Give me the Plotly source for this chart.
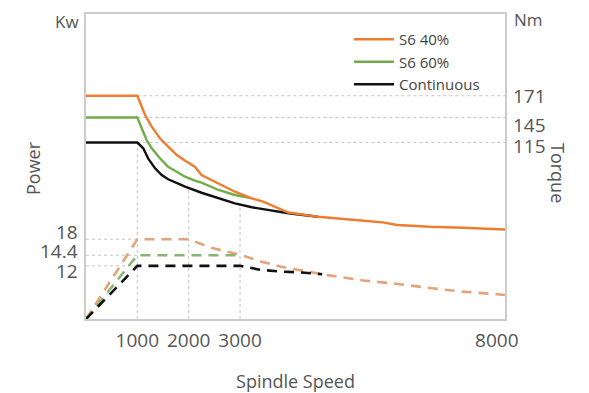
import numpy as np
import plotly.graph_objects as go

# ---------------- data ----------------
# Torque curves (Nm) vs spindle speed (rpm)
SPEED_TQ_S6_40 = [0, 1000, 1085, 1150, 1280, 1440, 1600, 1770, 1930, 2120, 2250, 2580, 2900, 3230, 3450,
                  3940, 4520, 5240, 5780, 6060, 6700, 7340, 8060, 8160]
TQ_S6_40 = [171, 171, 157.8, 147.9, 133.9, 120.0, 110.0, 100.0, 93.2, 86.0, 76.1, 66.2, 56.1, 48.2, 44.2,
            31.2, 26.2, 22.3, 19.5, 16.3, 14.2, 13.0, 11.1, 10.9]

SPEED_TQ_S6_60 = [0, 1000, 1085, 1180, 1280, 1440, 1600, 1930, 2120, 2250, 2580, 2900, 3230]
TQ_S6_60 = [145, 145, 132.0, 118.0, 108.1, 96.1, 86.0, 74.1, 69.3, 66.9, 58.2, 52.2, 48.2]

SPEED_TQ_CONT = [0, 1000, 1115, 1210, 1345, 1475, 1600, 1930, 2250, 2580, 2900, 3230, 3450, 3940, 4520]
TQ_CONT = [115, 115, 108.1, 96.1, 84.1, 76.1, 71.0, 62.1, 54.9, 48.2, 42.2, 37.5, 35.1, 30.3, 26.2]

# Power curves (kW) vs spindle speed (rpm)
SPEED_PW_S6_40 = [0, 1000, 2000, 2460, 3000, 3400, 3800, 4100, 4700, 5400, 6000, 6700, 7300, 8000, 8160]
PW_S6_40 = [0, 18, 18, 16.0, 14.5, 13.0, 11.8, 11.2, 9.9, 8.7, 8.0, 7.0, 6.2, 5.6, 5.4]

SPEED_PW_S6_60 = [0, 1000, 3000]
PW_S6_60 = [0, 14.4, 14.4]

SPEED_PW_CONT = [0, 1000, 3000, 3400, 3800, 4200, 4600]
PW_CONT = [0, 12, 12, 11.1, 10.7, 10.5, 10.1]

SERIES_NAMES = ["S6 40%", "S6 60%", "Continuous"]

X_TICKS = [1000, 2000, 3000, 8000]
POWER_TICKS = [18, 14.4, 12]
POWER_TICK_TEXT = ["18", "14.4", "12"]
TORQUE_TICKS = [171, 145, 115]
TORQUE_TICK_TEXT = ["171", "145", "115"]

# ---------------- style ----------------
ORANGE = "#ed7d31"
ORANGE_D = "#e3a47a"
GREEN = "#70ad47"
GREEN_D = "#86b672"
BLACK = "#111111"
GRID = "#c4c4c4"
FRAME = "#cccccc"
TXT = "#555555"
FONT = "Open Sans"

X_RANGE = [0, 8160]
PW_RANGE = [0, 68.85]
TQ_RANGE = [-96.2, 268.8]

# label nudges (px) so the tightly packed tick labels sit as in the source
POWER_LABEL_SHIFT = [7, 4, -5]
TORQUE_LABEL_SHIFT = [0, -8, -3.5]

fig = go.Figure()

# power (dashed) on left axis
for xs, ys, col in [(SPEED_PW_S6_40, PW_S6_40, ORANGE_D),
                    (SPEED_PW_S6_60, PW_S6_60, GREEN_D),
                    (SPEED_PW_CONT, PW_CONT, BLACK)]:
    fig.add_trace(go.Scatter(x=xs, y=ys, mode="lines", yaxis="y",
                             line=dict(color=col, width=2.6, dash="10px,7px"),
                             showlegend=False, hoverinfo="skip"))

# torque (solid) on right axis
for xs, ys, col, name, rank in [(SPEED_TQ_CONT, TQ_CONT, BLACK, SERIES_NAMES[2], 3),
                                (SPEED_TQ_S6_60, TQ_S6_60, GREEN, SERIES_NAMES[1], 2),
                                (SPEED_TQ_S6_40, TQ_S6_40, ORANGE, SERIES_NAMES[0], 1)]:
    fig.add_trace(go.Scatter(x=xs, y=ys, mode="lines", yaxis="y2", name=name,
                             legendrank=rank,
                             line=dict(color=col, width=2.4)))

shapes = []
# vertical dotted guides up to the continuous torque curve
for s in X_TICKS[:3]:
    top = float(np.interp(s, SPEED_TQ_CONT, TQ_CONT))
    shapes.append(dict(type="line", xref="x", yref="y2", x0=s, x1=s,
                       y0=TQ_RANGE[0], y1=top,
                       line=dict(color=GRID, width=1, dash="dot"), layer="below"))
# horizontal torque guides from base speed to the right edge
for t in TORQUE_TICKS:
    shapes.append(dict(type="line", xref="x", yref="y2", x0=X_TICKS[0], x1=X_RANGE[1],
                       y0=t, y1=t, line=dict(color=GRID, width=1, dash="dot"), layer="below"))
# horizontal power guides from axis to base speed
for p in POWER_TICKS:
    shapes.append(dict(type="line", xref="x", yref="y", x0=0, x1=X_TICKS[0],
                       y0=p, y1=p, line=dict(color=GRID, width=1, dash="dot"), layer="below"))

# The page body has an 8px margin, so the figure is sized/offset to compensate.
OFF = 8
WIN_W, WIN_H = 589, 393
PL, PR, PT, PB = 86, 505, 14, 319  # plot area in window pixels
W, H = WIN_W - OFF, WIN_H - OFF
L, T = PL - OFF, PT - OFF
R, B = W - (PR - OFF), H - (PB - OFF)
pw = PR - PL
ph = PB - PT


def px_x(px):
    return (px - PL) / pw


def px_y(py):
    return (PB - py) / ph


annotations = [
    dict(text="Kw", x=px_x(67), y=px_y(21), xref="paper", yref="paper", showarrow=False,
         font=dict(family=FONT, size=17, color=TXT), xanchor="center", yanchor="middle"),
    dict(text="Nm", x=px_x(528), y=px_y(20), xref="paper", yref="paper", showarrow=False,
         font=dict(family=FONT, size=17, color=TXT), xanchor="center", yanchor="middle"),
    dict(text="Power", x=px_x(33), y=px_y(168), xref="paper", yref="paper", showarrow=False,
         textangle=-90, font=dict(family=FONT, size=18, color=TXT), xanchor="center", yanchor="middle"),
    dict(text="Torque", x=px_x(558), y=px_y(173), xref="paper", yref="paper", showarrow=False,
         textangle=90, font=dict(family=FONT, size=18, color=TXT), xanchor="center", yanchor="middle"),
]
for v, t, sh in zip(POWER_TICKS, POWER_TICK_TEXT, POWER_LABEL_SHIFT):
    annotations.append(dict(text=t, x=px_x(80), y=v, xref="paper", yref="y", yshift=sh,
                            showarrow=False, xanchor="right", yanchor="middle",
                            font=dict(family=FONT, size=19, color=TXT)))
for v, t, sh in zip(TORQUE_TICKS, TORQUE_TICK_TEXT, TORQUE_LABEL_SHIFT):
    annotations.append(dict(text=t, x=px_x(511), y=v, xref="paper", yref="y2", yshift=sh,
                            showarrow=False, xanchor="left", yanchor="middle",
                            font=dict(family=FONT, size=19, color=TXT)))

fig.update_layout(
    width=W, height=H,
    margin=dict(l=L, r=R, t=T, b=B, autoexpand=False),
    paper_bgcolor="white", plot_bgcolor="white",
    font=dict(family=FONT, color=TXT),
    shapes=shapes,
    annotations=annotations,
    showlegend=True,
    legend=dict(x=px_x(349), y=px_y(23), xanchor="left", yanchor="top",
                bgcolor="rgba(255,255,255,0)", font=dict(family=FONT, size=15, color="#444444"),
                itemwidth=40, tracegroupgap=0),
    xaxis=dict(range=X_RANGE, tickvals=X_TICKS, ticktext=[str(v) for v in X_TICKS],
               showgrid=False, zeroline=False, showline=True, linecolor=FRAME, linewidth=2,
               mirror=True, ticks="", ticklabelstandoff=3,
               tickfont=dict(family=FONT, size=19, color=TXT),
               title=dict(text="Spindle Speed", font=dict(family=FONT, size=18, color=TXT), standoff=30)),
    yaxis=dict(range=PW_RANGE, tickvals=POWER_TICKS, showticklabels=False,
               showgrid=False, zeroline=False, showline=True, linecolor=FRAME, linewidth=2,
               mirror=True, ticks=""),
    yaxis2=dict(range=TQ_RANGE, tickvals=TORQUE_TICKS, showticklabels=False,
                overlaying="y", side="right", showgrid=False, zeroline=False, showline=False,
                ticks=""),
)

fig.write_html("out.html")
